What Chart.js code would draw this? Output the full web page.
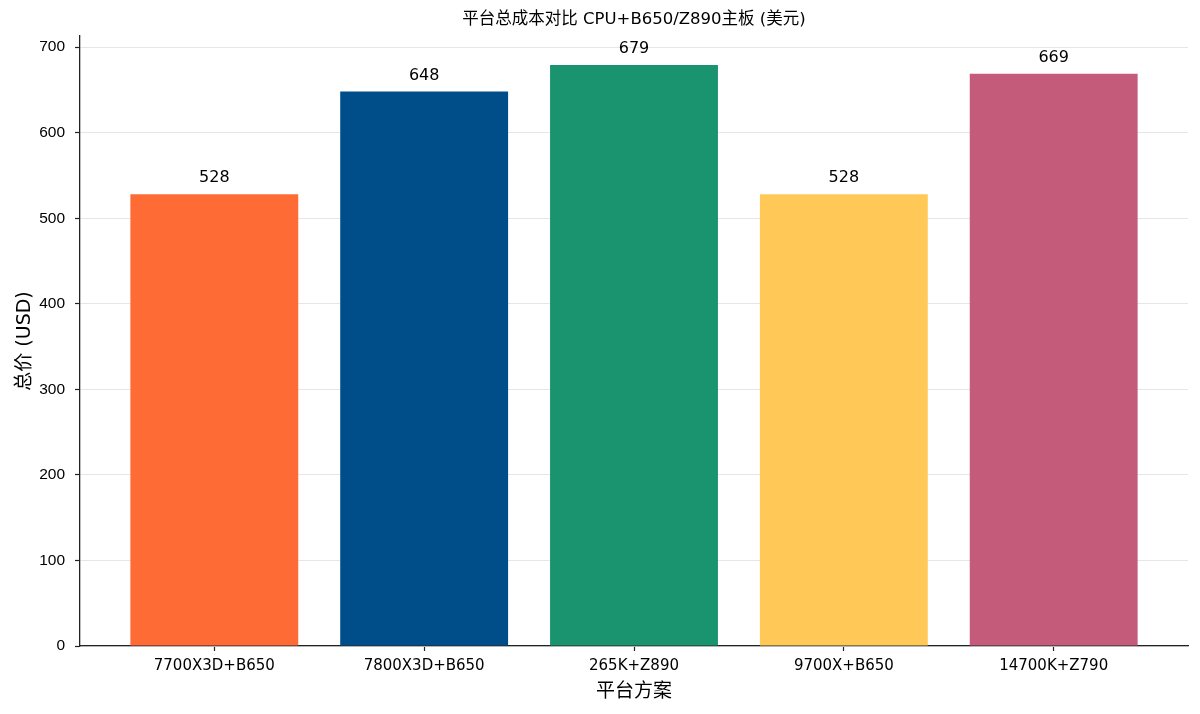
<!DOCTYPE html>
<html>
<head>
<meta charset="utf-8">
<script src="https://cdn.jsdelivr.net/npm/chart.js@4/dist/chart.umd.min.js"></script>
<style>
html,body{margin:0;padding:0;background:#fff;}
#wrap{width:1200px;height:714px;position:relative;}
</style>
</head>
<body>
<div id="wrap"><canvas id="c" width="1200" height="714"></canvas></div>
<script>
const categories = ["7700X3D+B650", "7800X3D+B650", "265K+Z890", "9700X+B650", "14700K+Z790"];
const totals = [528, 648, 679, 528, 669];
const barColors = ["#FF6B35", "#004E89", "#1A936F", "#FFC857", "#C45B7B"];
const yTicks = [0, 100, 200, 300, 400, 500, 600, 700];
const titleText = "平台总成本对比 CPU+B650/Z890主板 (美元)";
const xTitle = "平台方案";
const yTitle = "总价 (USD)";

const FONT = '"DejaVu Sans", "Noto Sans CJK SC", sans-serif';
const YFONT = '"Liberation Sans", "Noto Sans CJK SC", sans-serif';

const valueLabels = {
  id: 'valueLabels',
  afterDatasetsDraw(chart) {
    const ctx = chart.ctx;
    const meta = chart.getDatasetMeta(0);
    ctx.save();
    ctx.font = '16px ' + FONT;
    ctx.fillStyle = '#000';
    ctx.textAlign = 'center';
    ctx.textBaseline = 'alphabetic';
    meta.data.forEach((bar, i) => {
      ctx.fillText(String(totals[i]), bar.x, bar.y - 12);
    });
    ctx.restore();
  }
};

new Chart(document.getElementById('c'), {
  type: 'bar',
  data: {
    datasets: [{
      data: totals.map((v, i) => ({x: i, y: v})),
      backgroundColor: barColors,
      borderWidth: 0,
      barPercentage: 0.8,
      categoryPercentage: 1.0
    }]
  },
  options: {
    responsive: false,
    animation: false,
    devicePixelRatio: 1,
    layout: {padding: {left: 0, right: 12, top: 0, bottom: 0}},
    plugins: {
      legend: {display: false},
      tooltip: {enabled: false},
      title: {
        display: true,
        text: titleText,
        fullSize: false,
        color: '#000',
        font: {family: FONT, size: 16.5, weight: 'normal'},
        padding: {top: 9.5, bottom: 6.7}
      }
    },
    scales: {
      x: {
        type: 'linear',
        offset: false,
        min: -0.64,
        max: 4.64,
        afterBuildTicks(scale) {
          scale.ticks = categories.map((c, i) => ({value: i}));
        },
        afterFit(scale) { scale.height = 68; },
        ticks: {
          autoSkip: false,
          maxRotation: 0,
          color: '#000',
          font: {family: FONT, size: 15},
          padding: 6,
          callback: (v) => categories[v]
        },
        grid: {
          offset: false,
          drawOnChartArea: false,
          drawTicks: true,
          tickLength: 5,
          tickColor: '#222',
          tickWidth: 1.2
        },
        border: {display: true, color: '#222', width: 1.3},
        title: {
          display: true,
          text: xTitle,
          color: '#000',
          font: {family: FONT, size: 19},
          padding: {top: 0, bottom: 11}
        }
      },
      y: {
        min: 0,
        max: 713,
        afterBuildTicks(scale) {
          scale.ticks = yTicks.map(v => ({value: v}));
        },
        afterFit(scale) { scale.width = 80; },
        ticks: {
          color: '#000',
          font: {family: YFONT, size: 15.5},
          padding: 10
        },
        grid: {
          color: '#e6e6e6',
          lineWidth: 1,
          drawTicks: true,
          tickLength: 5,
          tickColor: '#222',
          tickWidth: 1.2
        },
        border: {display: true, color: '#222', width: 1.3},
        title: {
          display: true,
          text: yTitle,
          color: '#000',
          font: {family: FONT, size: 19},
          padding: {top: 14, bottom: 0}
        }
      }
    }
  },
  plugins: [valueLabels]
});
</script>
</body>
</html>
